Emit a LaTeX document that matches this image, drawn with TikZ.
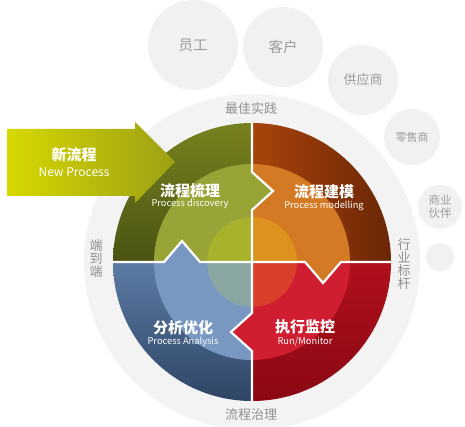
\documentclass[tikz,border=0pt]{standalone}
\usepackage{fontspec}
\setmainfont{Noto Sans CJK SC}
\definecolor{bubblec}{HTML}{F1F1F1}
\definecolor{ringc}{HTML}{F3F3F3}
\definecolor{graytxt}{HTML}{909090}
\definecolor{bubtxt}{HTML}{9C9C9C}
\definecolor{tlTop}{HTML}{78821F}
\definecolor{tlBot}{HTML}{4A5312}
\definecolor{tlMid}{HTML}{98A436}
\definecolor{tlIn}{HTML}{A9B22C}
\definecolor{trL}{HTML}{A8440C}
\definecolor{trR}{HTML}{6A2606}
\definecolor{trMid}{HTML}{D47A24}
\definecolor{trIn}{HTML}{DE921E}
\definecolor{brL}{HTML}{B0101C}
\definecolor{brR}{HTML}{8A0812}
\definecolor{brMid}{HTML}{D01E30}
\definecolor{brIn}{HTML}{D8402C}
\definecolor{blTop}{HTML}{5C7CA6}
\definecolor{blBot}{HTML}{2E4464}
\definecolor{blMid}{HTML}{7898C2}
\definecolor{blIn}{HTML}{8AA6A2}
\definecolor{arrL}{HTML}{D6D800}
\definecolor{arrR}{HTML}{9CA014}
\tikzset{
  bubble/.style={circle, fill=bubblec, text=bubtxt, inner sep=0pt, align=center},
  graylabel/.style={text=graytxt, inner sep=0pt, align=center, font=\fontsize{13pt}{13pt}\selectfont},
  titletxt/.style={text=white, inner sep=0pt, font=\bfseries\fontsize{15pt}{15pt}\selectfont},
  subtxt/.style={text=white, inner sep=0pt, font=\fontsize{9.3pt}{9.3pt}\selectfont},
  divider/.style={white, line width=2.2pt, line join=miter}
}
\begin{document}
\begin{tikzpicture}[x=1pt,y=-1pt]
\useasboundingbox (0,0) rectangle (465,427);
\fill[white] (0,0) rectangle (465,427);
% big pale ring
\node[circle, fill=ringc, minimum size=336pt, inner sep=0pt] (ring) at (252,262) {};
% bubbles
\node[bubble, minimum size=90pt, font=\fontsize{14.5pt}{14.5pt}\selectfont] (emp) at (193,45) {员工};
\node[bubble, minimum size=80pt, font=\fontsize{14.5pt}{14.5pt}\selectfont] (cus) at (283,47) {客户};
\node[bubble, minimum size=70pt, font=\fontsize{13pt}{13pt}\selectfont] (sup) at (363,80) {供应商};
\node[bubble, minimum size=56pt, font=\fontsize{11pt}{11pt}\selectfont] (ret) at (412,137) {零售商};
\node[bubble, minimum size=44pt, font=\fontsize{11.5pt}{13pt}\selectfont] (par) at (440,207) {商业\\伙伴};
\node[bubble, minimum size=28pt] (dot) at (440,257) {};
\coordinate (C) at (252,262);
% quadrants
\begin{scope}
  \clip (C) rectangle ++(-145,-145);
  \clip (C) circle[radius=139pt];
  \shade[top color=tlTop, bottom color=tlBot] (C) rectangle ++(-140,-140);
  \fill[tlMid] (C) circle[radius=98pt];
  \fill[tlIn] (C) circle[radius=45pt];
\end{scope}
\begin{scope}
  \clip (C) rectangle ++(145,-145);
  \clip (C) circle[radius=139pt];
  \shade[left color=trL, right color=trR] (C) rectangle ++(140,-140);
  \fill[trMid] (C) circle[radius=98pt];
  \fill[trIn] (C) circle[radius=45pt];
\end{scope}
\begin{scope}
  \clip (C) rectangle ++(145,145);
  \clip (C) circle[radius=139pt];
  \shade[top color=brL, bottom color=brR] (C) rectangle ++(140,140);
  \fill[brMid] (C) circle[radius=98pt];
  \fill[brIn] (C) circle[radius=45pt];
\end{scope}
\begin{scope}
  \clip (C) rectangle ++(-145,145);
  \clip (C) circle[radius=139pt];
  \shade[top color=blTop, bottom color=blBot] (C) rectangle ++(-140,140);
  \fill[blMid] (C) circle[radius=98pt];
  \fill[blIn] (C) circle[radius=45pt];
\end{scope}
% notches
\fill[tlMid] (251,172) -- (273,191) -- (251,210) -- cycle;
\fill[trMid] (305,261) -- (323,283) -- (341,261) -- cycle;
\fill[brMid] (253,313) -- (231,332) -- (253,351) -- cycle;
\fill[blMid] (164,263) -- (182,241) -- (200,263) -- cycle;
% dividers
\begin{scope}
  \clip (C) circle[radius=139pt];
  \draw[divider] (252,118) -- (252,172) -- (273,191) -- (252,210) -- (252,313) -- (231,332) -- (252,351) -- (252,406);
  \draw[divider] (108,262) -- (164,262) -- (182,241) -- (200,262) -- (305,262) -- (323,283) -- (341,262) -- (396,262);
\end{scope}
% new process arrow
\shade[left color=arrL, right color=arrR] (7,129) -- (135,129) -- (135,122) -- (175,162) -- (135,203) -- (135,196) -- (7,196) -- cycle;
\node[titletxt] (np) at (74,155) {新流程};
\node[text=white, inner sep=0pt, font=\fontsize{12pt}{12pt}\selectfont] (npe) at (74,172) {New Process};
% quadrant texts
\node[titletxt] (q1) at (190,191) {流程梳理};
\node[subtxt] (q1e) at (190,204) {Process discovery};
\node[titletxt] (q2) at (324,192) {流程建模};
\node[subtxt] (q2e) at (324,206) {Process modelling};
\node[titletxt] (q3) at (183,328) {分析优化};
\node[subtxt] (q3e) at (183,342) {Process Analysis};
\node[titletxt] (q4) at (305,327) {执行监控};
\node[subtxt] (q4e) at (305,342) {Run/Monitor};
% gray labels
\node[graylabel] (best) at (251,109) {最佳实践};
\node[graylabel] (gov) at (251,415) {流程治理};
\node[graylabel] (e2e) at (96,259) {端\\到\\端};
\node[graylabel] (bench) at (404,264) {行\\业\\标\\杆};
\end{tikzpicture}
\end{document}
